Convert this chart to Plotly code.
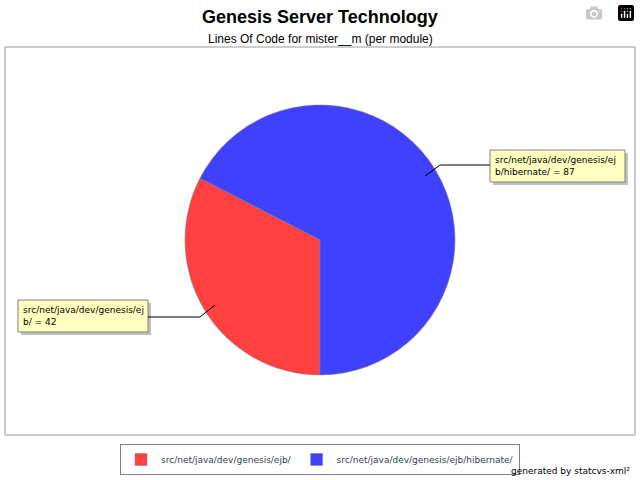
import plotly.graph_objects as go

labels = ["src/net/java/dev/genesis/ejb/", "src/net/java/dev/genesis/ejb/hibernate/"]
values = [42, 87]
colors = ["#ff4040", "#4040ff"]
callouts = ["src/net/java/dev/genesis/ej<br>b/ = 42", "src/net/java/dev/genesis/ej<br>b/hibernate/ = 87"]

W, H = 640, 480
def px(x): return x / W
def py(y): return 1 - y / H

fig = go.Figure(go.Pie(
    labels=labels, values=values, sort=False, direction="clockwise", rotation=180,
    marker=dict(colors=colors, line=dict(color="#808080", width=0.5)),
    textinfo="none", hoverinfo="label+value",
    domain=dict(x=[px(185), px(455)], y=[py(380), py(100)]),
))

shapes = [dict(type="rect", xref="paper", yref="paper", x0=px(5), x1=px(635), y0=py(435), y1=py(47),
               line=dict(color="#999999", width=1), layer="below")]
boxes = [(18, 300, 148, 332), (490, 150, 625, 182)]
for (x0, y0, x1, y1) in boxes:
    shapes.append(dict(type="rect", xref="paper", yref="paper", x0=px(x0+3), x1=px(x1+3), y0=py(y1+3), y1=py(y0+3),
                       fillcolor="#c0c0c0", line=dict(width=0)))
    shapes.append(dict(type="rect", xref="paper", yref="paper", x0=px(x0), x1=px(x1), y0=py(y1), y1=py(y0),
                       fillcolor="#ffffc0", line=dict(color="#808080", width=1)))
lines = [[(148, 317), (200, 317), (215, 305)], [(425, 176), (440, 165), (490, 165)]]
for pts in lines:
    path = "M " + " L ".join(f"{px(x)},{py(y)}" for x, y in pts)
    shapes.append(dict(type="path", xref="paper", yref="paper", path=path, line=dict(color="black", width=1)))

ann = []
for (x0, y0, x1, y1), t in zip(boxes, callouts):
    ann.append(dict(xref="paper", yref="paper", x=px(x0+3), y=py((y0+y1)/2), text=t, showarrow=False,
                    xanchor="left", yanchor="middle", align="left",
                    font=dict(family="DejaVu Sans", size=9, color="black")))
ann.append(dict(xref="paper", yref="paper", x=0.5, y=py(17), text="<b>Genesis Server Technology</b>",
                showarrow=False, font=dict(family="Liberation Sans", size=18, color="black"), yanchor="middle"))
ann.append(dict(xref="paper", yref="paper", x=0.5, y=py(39), text="Lines Of Code for mister__m (per module)",
                showarrow=False, font=dict(family="Liberation Sans", size=12, color="black"), yanchor="middle"))
ann.append(dict(xref="paper", yref="paper", x=px(632), y=py(471), text="generated by statcvs-xml²",
                showarrow=False, xanchor="right", yanchor="middle",
                font=dict(family="DejaVu Sans", size=9, color="black")))

fig.update_layout(
    width=W, height=H, margin=dict(l=0, r=0, t=0, b=0),
    paper_bgcolor="white", plot_bgcolor="white",
    shapes=shapes, annotations=ann,
    legend=dict(orientation="h", x=0.5, xanchor="center", y=py(444), yanchor="top",
                bordercolor="#808080", borderwidth=1, font=dict(family="DejaVu Sans", size=9),
                itemwidth=30, tracegroupgap=0),
)
fig.write_html("out.html")
with open("out.html") as f:
    html = f.read()
html = html.replace("<body>", "<body style=\"margin:0;padding:0;overflow:hidden\">", 1)
with open("out.html", "w") as f:
    f.write(html)
